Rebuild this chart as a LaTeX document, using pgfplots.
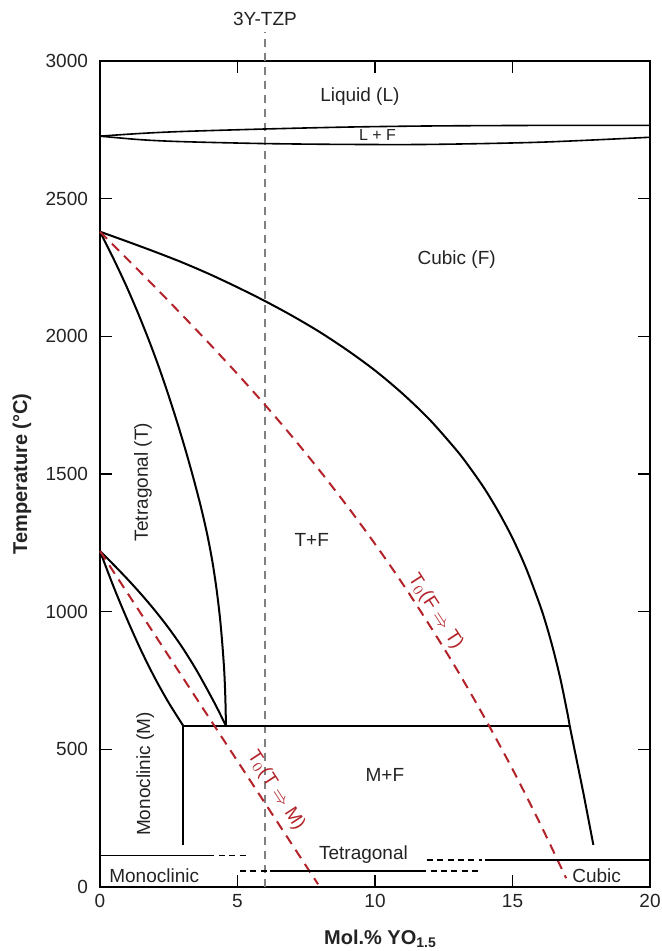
\documentclass[border=0pt]{standalone}
\usepackage{fontspec}
\setmainfont{Liberation Sans}
\usepackage{pgfplots}
\pgfplotsset{compat=1.18}
\definecolor{tred}{RGB}{178,34,40}
\definecolor{txt}{RGB}{35,35,35}
\begin{document}
\begin{tikzpicture}
\begin{axis}[
  at={(0,0)}, anchor=south west,
  width=275pt, height=413pt, scale only axis,
  xmin=0, xmax=20, ymin=0, ymax=3000,
  xtick={0,5,10,15,20}, ytick={0,500,1000,1500,2000,2500,3000},
  tick align=inside, major tick length=6pt,
  tick style={black, line width=0.6pt},
  axis line style={line width=0.6pt},
  clip=false,
  /pgf/number format/assume math mode=true,
  /pgf/number format/1000 sep={},
  ticklabel style={font=\fontsize{9.5}{11}\selectfont, text=txt},
  yticklabel style={xshift=-2.5pt},
  xlabel={\textbf{Mol.\% YO\textsubscript{1.5}}},
  ylabel={\textbf{Temperature (°C)}},
  label style={font=\fontsize{10}{12}\selectfont, text=txt},
  xlabel style={at={(axis description cs:0.51,-0.063)}, anchor=center},
  ylabel style={at={(axis description cs:-0.142,0.5)}, anchor=center},
]
% 3Y-TZP vertical line
\addplot[gray, line width=0.6pt, dash pattern=on 4pt off 3pt] coordinates {(6,0)(6,3106)};
% liquidus / solidus
\addplot[black, line width=0.8pt, smooth] coordinates {(0,2727)(1.5,2737)(3,2744)(6,2753)(9,2760)(12,2764)(16,2766)(20,2766)};
\addplot[black, line width=0.8pt, smooth] coordinates {(0,2727)(1.5,2714)(3,2707)(6,2700)(9,2697)(12,2697)(16,2705)(20,2723)};
% F solvus (cubic boundary)
\addplot[black, line width=1pt, smooth] coordinates {(0,2380)(1,2344)(2,2307)(3,2268)(4,2225)(5,2178)(6,2128)(7,2074)(8,2015)(9,1949)(10,1876)(11,1792)(12,1696)(13,1582)(13.5,1516)(14,1444)(14.5,1361)(15,1267)(15.5,1156)(16,1023)(16.25,945)(16.5,855)(16.75,752)(17.0,630)(17.08,585)};
\addplot[black, line width=1pt] coordinates {(17.08,585)(17.58,340)(17.94,153)};
% T solvus
\addplot[black, line width=1pt, smooth] coordinates {(0,2380)(0.50,2280)(0.97,2180)(1.40,2080)(1.80,1980)(2.17,1880)(2.51,1780)(2.83,1680)(3.13,1580)(3.41,1480)(3.67,1380)(3.90,1280)(4.09,1180)(4.24,1080)(4.36,980)(4.45,880)(4.52,780)(4.56,680)(4.58,585)};
% M + T lens
\addplot[black, line width=1pt, smooth] coordinates {(0,1220)(0.5,1089)(1.0,969)(1.5,858)(2.0,758)(2.5,669)(3.03,585)};
\addplot[black, line width=1pt, smooth] coordinates {(0,1220)(0.5,1170)(1.0,1118)(1.5,1063)(2.0,1004)(2.5,940)(3.0,869)(3.5,789)(4.0,699)(4.3,642)(4.58,585)};
% eutectoid and vertical
\addplot[black, line width=1pt] coordinates {(3.03,585)(17.08,585)};
\addplot[black, line width=1pt] coordinates {(3.03,585)(3.03,153)};
% T0 lines
\addplot[tred, line width=1pt, dash pattern=on 5pt off 3.5pt, smooth] coordinates {(0,2380)(1,2280)(2,2179)(3,2076)(4,1971)(5,1863)(6,1751)(7,1634)(8,1511)(9,1382)(10,1246)(11,1102)(12,948)(13,786)(14,612)(15,428)(16,231)(16.95,32)};
\addplot[tred, line width=1pt, dash pattern=on 5pt off 3.5pt] coordinates {(0,1220)(7.93,10)};
% low temperature lines
\addplot[black, line width=0.6pt] coordinates {(0,114)(3.94,114)};
\addplot[black, line width=0.6pt, dash pattern=on 3pt off 2.2pt] coordinates {(3.94,114)(5.45,114)};
\addplot[black, line width=0.6pt, dash pattern=on 3pt off 2.2pt] coordinates {(5.09,58)(6.1,58)};
\addplot[black, line width=0.6pt] coordinates {(6.18,58)(11.64,58)};
\addplot[black, line width=0.6pt, dash pattern=on 3pt off 2.2pt] coordinates {(11.64,58)(13.8,58)};
\addplot[black, line width=0.6pt, dash pattern=on 3pt off 2.2pt] coordinates {(11.88,98)(13.9,98)};
\addplot[black, line width=0.6pt] coordinates {(14.0,98)(20,98)};
% labels
\begin{scope}[every node/.style={font=\fontsize{9.5}{11}\selectfont, text=txt}]
\node at (axis cs:6,3153) {3Y-TZP};
\node at (axis cs:9.45,2870) {Liquid (L)};
\node[font=\fontsize{8}{9}\selectfont] at (axis cs:10.09,2732) {L + F};
\node at (axis cs:12.97,2278) {Cubic (F)};
\node[rotate=90] at (axis cs:1.56,1471) {Tetragonal (T)};
\node at (axis cs:7.7,1260) {T+F};
\node[text=tred, rotate=-57, inner sep=0pt] at (axis cs:12.2,1000) {T$_0$(F $\Rightarrow$ T)};
\node[text=tred, rotate=-57, inner sep=0pt] at (axis cs:6.4,350) {T$_0$(T $\Rightarrow$ M)};
\node[rotate=90, inner sep=0pt] at (axis cs:1.64,410) {Monoclinic (M)};
\node at (axis cs:10.36,407) {M+F};
\node[inner sep=0pt] at (axis cs:9.58,116) {Tetragonal};
\node[inner sep=0pt] at (axis cs:1.97,40) {Monoclinic};
\node[inner sep=0pt] at (axis cs:18.06,40) {Cubic};
\end{scope}
\end{axis}
\pgfresetboundingbox
\useasboundingbox (-50pt,-32pt) rectangle (280.5pt,443.5pt);
\end{tikzpicture}
\end{document}
